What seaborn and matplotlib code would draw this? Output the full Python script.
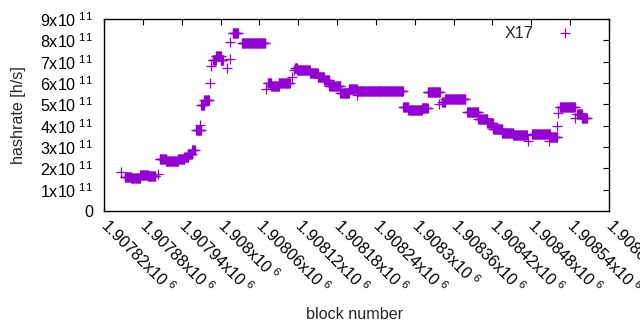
import numpy as np
import pandas as pd
import matplotlib
matplotlib.use("Agg")
import matplotlib.pyplot as plt
import seaborn as sns

# ---- data ----
# plateau runs: block range [start, end] with a constant hashrate (h/s)
run_start = [1907852, 1907862, 1907876, 1907888, 1907906, 1907916, 1907934, 1907944,
             1907950, 1907956, 1907962, 1907970, 1907975, 1907988, 1907993, 1908000,
             1908019, 1908033, 1908073, 1908078, 1908090, 1908115, 1908118, 1908138,
             1908150, 1908160, 1908168, 1908185, 1908198, 1908210, 1908282, 1908290,
             1908311, 1908320, 1908342, 1908347, 1908381, 1908398, 1908412, 1908421,
             1908435, 1908452, 1908481, 1908509, 1908524, 1908551, 1908558]
run_end = [1907862, 1907876, 1907888, 1907899, 1907916, 1907934, 1907944, 1907950,
           1907956, 1907960, 1907970, 1907975, 1907982, 1907993, 1908000, 1908004,
           1908027, 1908069, 1908078, 1908090, 1908107, 1908118, 1908138, 1908150,
           1908160, 1908168, 1908185, 1908198, 1908210, 1908282, 1908290, 1908311,
           1908320, 1908339, 1908347, 1908378, 1908398, 1908412, 1908421, 1908435,
           1908452, 1908473, 1908509, 1908520, 1908547, 1908558, 1908566]
run_value = [1.60e11, 1.53e11, 1.70e11, 1.65e11, 2.42e11, 2.36e11, 2.45e11, 2.55e11,
             2.68e11, 2.85e11, 3.80e11, 4.97e11, 5.22e11, 7.10e11, 7.28e11, 7.10e11,
             8.36e11, 7.86e11, 5.98e11, 5.84e11, 5.98e11, 6.72e11, 6.60e11, 6.45e11,
             6.30e11, 6.12e11, 5.86e11, 5.55e11, 5.70e11, 5.63e11, 4.86e11, 4.72e11,
             4.83e11, 5.56e11, 5.12e11, 5.24e11, 4.64e11, 4.30e11, 4.11e11, 3.86e11,
             3.67e11, 3.55e11, 3.61e11, 3.47e11, 4.86e11, 4.53e11, 4.36e11]

# isolated single points
single_block = [1907847, 1907903, 1907968, 1907984, 1907985, 1908010, 1908014, 1908015,
                1908070, 1908110, 1908113, 1908210, 1908337, 1908475, 1908507, 1908520,
                1908521, 1908547]
single_value = [1.81e11, 1.72e11, 4.03e11, 5.99e11, 6.81e11, 6.69e11, 7.11e11, 7.92e11,
                5.70e11, 6.27e11, 6.61e11, 5.44e11, 5.03e11, 3.30e11, 3.30e11, 3.98e11,
                4.58e11, 4.35e11]

x_ticks = [1907820 + 60 * i for i in range(14)]
y_ticks = [0, 1e11, 2e11, 3e11, 4e11, 5e11, 6e11, 7e11, 8e11, 9e11]
series_name = "X17"
color = "#9400D3"

# ---- build table ----
blocks, values = [], []
for s, e, v in zip(run_start, run_end, run_value):
    for b in range(s, e + 1):
        blocks.append(b)
        values.append(v)
blocks += single_block
values += single_value
df = pd.DataFrame({"block": blocks, "hashrate": values})

# ---- style ----
sns.set_style("white")
plt.rcParams["font.family"] = ["Liberation Sans", "DejaVu Sans"]
plt.rcParams["mathtext.fontset"] = "custom"
plt.rcParams["mathtext.rm"] = "Liberation Sans"
FS = 11.6

fig = plt.figure(figsize=(6.4, 3.3), dpi=100)
ax = fig.add_axes([104 / 640, 1 - 211 / 330, 505 / 640, 192 / 330])

sns.scatterplot(data=df, x="block", y="hashrate", marker="+", s=42, color=color,
                linewidth=0.9, ax=ax, label=series_name)

ax.set_xlim(1907820, 1908600)
ax.set_ylim(0, 9e11)
ax.set_xticks(x_ticks)
ax.set_yticks(y_ticks)


def xfmt(v):
    m = v / 1e6
    s = ("%.6f" % m).rstrip("0").rstrip(".")
    return r"$\mathregular{%sx10^{\ 6}}$" % s


def yfmt(v):
    if v == 0:
        return "0"
    return r"$\mathregular{%dx10^{\ 11}}$" % round(v / 1e11)


ax.set_xticklabels([xfmt(v) for v in x_ticks], rotation=-45, ha="left", va="center",
                   rotation_mode="anchor", fontsize=FS)
ax.set_yticklabels([yfmt(v) for v in y_ticks], fontsize=FS)

ax.tick_params(direction="in", top=True, right=True, length=4, width=0.8, colors="black")
ax.tick_params(axis="x", pad=8)
ax.tick_params(axis="y", pad=8)
for sp in ax.spines.values():
    sp.set_visible(True)
    sp.set_color("black")
    sp.set_linewidth(1.0)

ax.set_xlabel("block number", fontsize=FS)
ax.set_ylabel("hashrate [h/s]", fontsize=FS)
ax.xaxis.set_label_coords((355 - 104) / 505, (211 - 307) / 192)
ax.yaxis.set_label_coords((26 - 104) / 505, (211 - 115) / 192)

ax.legend(loc="upper right", bbox_to_anchor=(0.968, 0.965), markerfirst=False,
          frameon=False, handlelength=3.5, handletextpad=0.2, borderpad=0,
          borderaxespad=0, fontsize=FS, scatterpoints=1)

fig.savefig("out.png", dpi=100)
